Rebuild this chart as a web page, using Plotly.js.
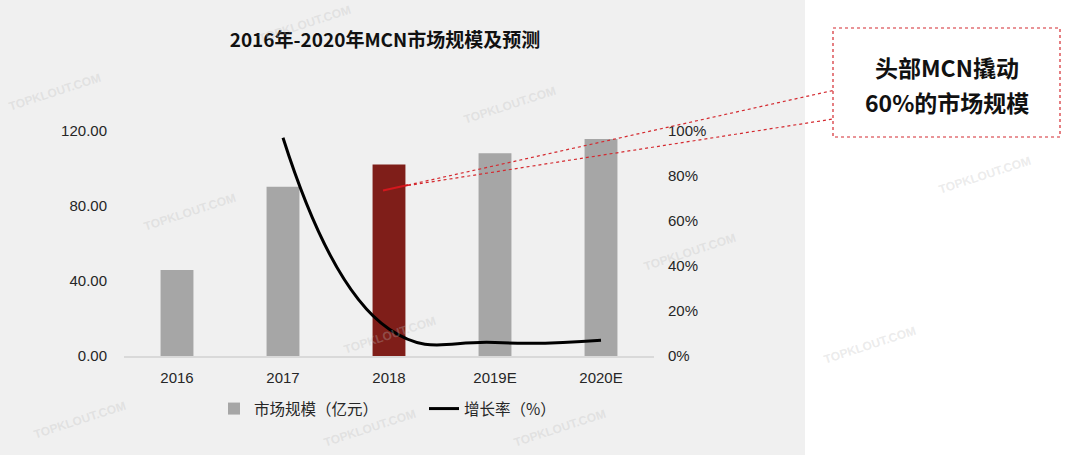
<!DOCTYPE html>
<html>
<head>
<meta charset="utf-8">
<script src="https://cdn.plot.ly/plotly-3.0.1.min.js"></script>
<style>
  html, body { margin: 0; padding: 0; background: #ffffff; }
  #chart { width: 1080px; height: 455px; }
</style>
</head>
<body>
<div id="chart"></div>
<script>
// ---- data ----
const categories = ['2016', '2017', '2018', '2019E', '2020E'];
const marketSize = [45.9, 90.3, 102.2, 108.1, 115.7];       // 市场规模（亿元）
const growthRate = [null, 0.97, 0.12, 0.06, 0.07];          // 增长率（%）
const barColors = ['#a6a6a6', '#a6a6a6', '#7f1e19', '#a6a6a6', '#a6a6a6'];
const leftTickVals = [0, 40, 80, 120];
const leftTickText = ['0.00', '40.00', '80.00', '120.00'];
const rightTickVals = [0, 0.2, 0.4, 0.6, 0.8, 1.0];
const rightTickText = ['0%', '20%', '40%', '60%', '80%', '100%'];
const seriesNames = ['市场规模（亿元）', '增长率（%）'];
const chartTitle = '2016年-2020年MCN市场规模及预测';
const calloutLines = ['头部MCN撬动', '60%的市场规模'];
const watermark = 'TOPKLOUT.COM';

// ---- layout geometry (pixels) ----
const W = 1080, H = 455;
const PL = 124, PR = 654, PT = 131, PB = 356;
const px = x => (x - PL) / (PR - PL);
const py = y => (PB - y) / (PB - PT);

const cjk = '"Noto Sans CJK SC", "Noto Sans", sans-serif';
const latin = '"Liberation Sans", Arial, sans-serif';

const traces = [
  {
    type: 'bar',
    x: categories,
    y: marketSize,
    name: seriesNames[0],
    marker: { color: barColors },
    yaxis: 'y',
    hoverinfo: 'skip'
  },
  {
    type: 'scatter',
    mode: 'lines',
    x: categories,
    y: growthRate,
    name: seriesNames[1],
    line: { color: '#000000', width: 3, shape: 'spline', smoothing: 1.3 },
    yaxis: 'y2',
    connectgaps: false,
    hoverinfo: 'skip'
  }
];

const wmPos = [
  [55, 92], [305, 24], [190, 212], [510, 105], [390, 335], [690, 252],
  [985, 175], [80, 420], [370, 428], [560, 428], [870, 345]
];
const calloutY = [67, 102];
const annotations = calloutLines.map((t, i) => ({
  text: t, xref: 'paper', yref: 'paper',
  x: px(947), y: py(calloutY[i]), xanchor: 'center', yanchor: 'middle',
  showarrow: false, align: 'center',
  font: { family: cjk, size: 23, color: '#111111', weight: 'bold' }
})).concat(wmPos.map(p => ({
  text: '<b>' + watermark + '</b>', xref: 'paper', yref: 'paper',
  x: px(p[0]), y: py(p[1]), xanchor: 'center', yanchor: 'middle',
  showarrow: false, textangle: -18,
  font: { family: latin, size: 12, color: 'rgba(190,190,190,0.3)' }
})));

const shapes = [
  // gray background panel
  { type: 'rect', xref: 'paper', yref: 'paper', layer: 'below',
    x0: px(0), x1: px(805), y0: py(0), y1: py(H),
    fillcolor: '#f0f0f0', line: { width: 0 } },
  // callout box
  { type: 'rect', xref: 'paper', yref: 'paper',
    x0: px(833), x1: px(1060), y0: py(28), y1: py(137),
    fillcolor: '#ffffff', line: { color: '#d42a30', width: 1.2, dash: 'dot' } },
  // connector: solid part
  { type: 'line', xref: 'paper', yref: 'paper',
    x0: px(383), y0: py(190.5), x1: px(408), y1: py(185),
    line: { color: '#d4171d', width: 1.8 } },
  // connector: dashed lines
  { type: 'line', xref: 'paper', yref: 'paper',
    x0: px(408), y0: py(185), x1: px(833), y1: py(90.5),
    line: { color: '#d42a30', width: 1.2, dash: 'dot' } },
  { type: 'line', xref: 'paper', yref: 'paper',
    x0: px(408), y0: py(185.5), x1: px(833), y1: py(119),
    line: { color: '#d42a30', width: 1.2, dash: 'dot' } }
];

const layout = {
  width: W, height: H,
  margin: { l: PL, r: W - PR, t: PT, b: H - PB, pad: 0 },
  paper_bgcolor: '#ffffff',
  plot_bgcolor: 'rgba(0,0,0,0)',
  showlegend: true,
  title: {
    text: chartTitle, xref: 'container', yref: 'container',
    x: 385 / W, y: 1 - 40 / H, xanchor: 'center', yanchor: 'middle',
    font: { family: cjk, size: 19, color: '#111111', weight: 'bold' }
  },
  bargap: 0.69,
  xaxis: {
    type: 'category', range: [-0.5, 4.5],
    showline: true, linecolor: '#d9d9d9', linewidth: 1.5,
    showgrid: false, zeroline: false, ticks: '',
    tickfont: { family: latin, size: 15, color: '#262626' },
    ticklabelstandoff: 7
  },
  yaxis: {
    range: [0, 120], tickvals: leftTickVals, ticktext: leftTickText,
    showgrid: false, zeroline: false, showline: false, ticks: '',
    tickfont: { family: latin, size: 15, color: '#262626' },
    ticklabelstandoff: 16
  },
  yaxis2: {
    range: [0, 1], tickvals: rightTickVals, ticktext: rightTickText,
    overlaying: 'y', side: 'right', anchor: 'x',
    showgrid: false, zeroline: false, showline: false, ticks: '',
    tickfont: { family: latin, size: 15, color: '#262626' },
    ticklabelstandoff: 13
  },
  legend: {
    orientation: 'h', x: px(214), y: py(409), xanchor: 'left', yanchor: 'middle',
    bgcolor: 'rgba(0,0,0,0)', entrywidth: 165, entrywidthmode: 'pixels',
    font: { family: cjk, size: 15.5, color: '#262626' },
    itemwidth: 30, tracegroupgap: 0
  },
  shapes: shapes,
  annotations: annotations
};

Plotly.newPlot('chart', traces, layout, { displayModeBar: false, staticPlot: true });
</script>
</body>
</html>
